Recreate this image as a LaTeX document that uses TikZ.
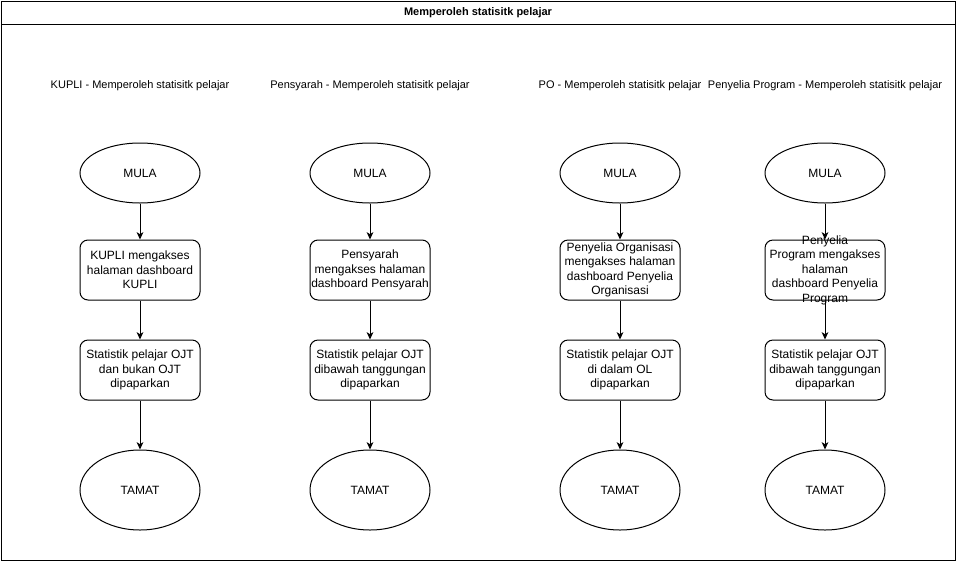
\documentclass[tikz,border=0pt]{standalone}
\usepackage{fontspec}
\setmainfont{Liberation Sans}
\usetikzlibrary{shapes,arrows,positioning,arrows.meta}

\begin{document}
\begin{tikzpicture}[x=0.75pt,y=-0.75pt,line width=0.75pt,
    font=\fontsize{8.25}{10.9}\selectfont,
    oval/.style={draw,ellipse,minimum width=90pt,minimum height=45pt,inner sep=0pt,font=\fontsize{9}{10.9}\selectfont},
    endoval/.style={oval,minimum height=60pt},
    procbox/.style={draw,rounded corners=6pt,minimum width=90pt,minimum height=45pt,inner sep=0pt,align=center,font=\fontsize{9}{10.9}\selectfont},
    flow/.style={-{Stealth[length=5.5pt,width=5pt,inset=1.5pt]}}]
    \useasboundingbox (0,0) rectangle (956,561);

    % Frame and title
    \draw (1,1) rectangle (955,560);
    \draw (1,24) -- (955,24);
    \node[font=\fontsize{8.25}{10.9}\selectfont\bfseries] (title) at (478,13) {Memperoleh statisitk pelajar};

    % Column headers
    \node (hkupli) at (140,86) {KUPLI - Memperoleh statisitk pelajar};
    \node (hpens) at (370,86) {Pensyarah - Memperoleh statisitk pelajar};
    \node (hpo) at (620,86) {PO - Memperoleh statisitk pelajar};
    \node (hpp) at (825,86) {Penyelia Program - Memperoleh statisitk pelajar};

    % KUPLI
    \node[oval] (mula1) at (140,173) {MULA};
    \node[procbox] (akses1) at (140,270) {KUPLI mengakses\\halaman dashboard\\KUPLI};
    \node[procbox] (stat1) at (140,370) {Statistik pelajar OJT\\dan bukan OJT\\dipaparkan};
    \node[endoval] (tamat1) at (140,490) {TAMAT};

    % Pensyarah
    \node[oval] (mula2) at (370,173) {MULA};
    \node[procbox] (akses2) at (370,270) {Pensyarah\\mengakses halaman\\dashboard Pensyarah};
    \node[procbox] (stat2) at (370,370) {Statistik pelajar OJT\\dibawah tanggungan\\dipaparkan};
    \node[endoval] (tamat2) at (370,490) {TAMAT};

    % PO
    \node[oval] (mula3) at (620,173) {MULA};
    \node[procbox] (akses3) at (620,270) {Penyelia Organisasi\\mengakses halaman\\dashboard Penyelia\\Organisasi};
    \node[procbox] (stat3) at (620,370) {Statistik pelajar OJT\\di dalam OL\\dipaparkan};
    \node[endoval] (tamat3) at (620,490) {TAMAT};

    % Penyelia Program (text spills over the box)
    \node[oval] (mula4) at (825,173) {MULA};
    \node[procbox] (akses4) at (825,270) {};
    \node[align=center,inner sep=0pt,font=\fontsize{9}{10.9}\selectfont] (akses4txt) at (akses4.center) {Penyelia\\Program mengakses\\halaman\\dashboard Penyelia\\Program};
    \node[procbox] (stat4) at (825,370) {Statistik pelajar OJT\\dibawah tanggungan\\dipaparkan};
    \node[endoval] (tamat4) at (825,490) {TAMAT};

    % Connectors
    \foreach \c in {1,2,3,4} {
        \draw[flow] (mula\c) -- (akses\c);
        \draw[flow] (akses\c) -- (stat\c);
        \draw[flow] (stat\c) -- (tamat\c);
    }
\end{tikzpicture}
\end{document}
